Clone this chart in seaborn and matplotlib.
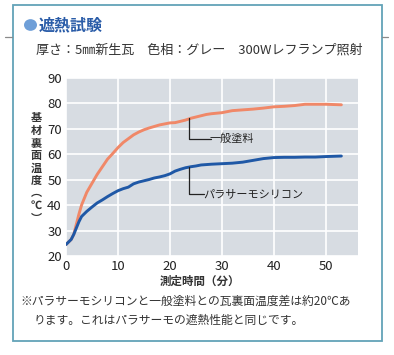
import numpy as np
import pandas as pd
import matplotlib
matplotlib.use("Agg")
import matplotlib.pyplot as plt
import seaborn as sns
from matplotlib.patches import Rectangle, Circle
from matplotlib.lines import Line2D

# 一般塗料
time_general = [0, 0.5, 1, 1.5, 2, 2.5, 3, 4, 5, 6, 7, 8, 9, 10, 11, 12, 13, 14, 15, 16, 17, 18,
                19, 20, 21, 22, 23, 24, 25, 26, 27, 28, 30, 32, 34, 36, 38, 40, 42, 44, 46, 48, 50, 53]
temp_general = [24.5, 25.5, 26.5, 28.5, 32.5, 36.5, 40, 45, 48.5, 52, 55, 58, 60.2, 62.5, 64.5, 66, 67.5, 68.6, 69.5, 70.2, 70.8, 71.4,
                71.8, 72.2, 72.3, 72.8, 73.3, 74, 74.5, 75, 75.5, 75.8, 76.2, 77, 77.3, 77.6, 78, 78.5, 78.7, 79, 79.5, 79.5, 79.5, 79.3]

# パラサーモシリコン
time_para = [0, 0.5, 1, 1.5, 2, 2.5, 3, 4, 5, 6, 7, 8, 9, 10, 11, 12, 13, 14, 15, 16, 17, 18,
             19, 20, 21, 22, 23, 24, 25, 26, 28, 30, 32, 34, 36, 38, 40, 42, 44, 46, 48, 50, 53]
temp_para = [24.5, 25.5, 26.5, 28.5, 31, 33.5, 35.5, 37.5, 39.2, 40.8, 42, 43.3, 44.5, 45.6, 46.4, 47, 48.3, 49, 49.5, 50, 50.6, 51,
             51.5, 52.2, 53.3, 54, 54.6, 55, 55.3, 55.7, 56, 56.2, 56.4, 56.8, 57.5, 58.2, 58.6, 58.7, 58.7, 58.8, 58.8, 59, 59.2]

x_ticks = [0, 10, 20, 30, 40, 50]
y_ticks = [20, 30, 40, 50, 60, 70, 80, 90]

df = pd.concat([
    pd.DataFrame({"time": time_general, "temp": temp_general, "kind": "一般塗料"}),
    pd.DataFrame({"time": time_para, "temp": temp_para, "kind": "パラサーモシリコン"}),
])

sns.set_theme(style="white")
plt.rcParams["font.family"] = ["Noto Sans CJK JP", "DejaVu Sans"]

W, H = 394, 355
fig = plt.figure(figsize=(W / 100, H / 100), dpi=100)

# outer frame
fig.add_artist(Line2D([5 / W, 12 / W], [1 - 37 / H] * 2, color="#8a8a8a", lw=0.9))
fig.add_artist(Line2D([382 / W, 388 / W], [1 - 37 / H] * 2, color="#8a8a8a", lw=0.9))
fig.add_artist(Rectangle((12.5 / W, 1 - 341 / H), 369 / W, 336.5 / H, transform=fig.transFigure,
                         facecolor="white", edgecolor="#62a3b8", lw=1.3, zorder=-5))

# title
fig.add_artist(Circle((30.5 / W, 1 - 25 / H), 6.5 / W, transform=fig.transFigure,
                      facecolor="#6f9fd8", edgecolor="none"))
fig.text(39 / W, 1 - 25 / H, "遮熱試験", fontsize=11.5, fontweight="bold", color="#2a5ca8",
         va="center", ha="left")
fig.text(36 / W, 1 - 50 / H, "厚さ：5㎜新生瓦　色相：グレー　300Wレフランプ照射", fontsize=9.4,
         color="#333333", va="center", ha="left")

ax = fig.add_axes([66 / W, 1 - 256 / H, 292 / W, 178.5 / H])
ax.set_facecolor("#d7dce2")
sns.lineplot(data=df, x="time", y="temp", hue="kind", palette=["#f08868", "#1f58a6"],
             linewidth=2.1, ax=ax, legend=False)

ax.set_xlim(0, 56.2)
ax.set_ylim(20, 90)
ax.set_xticks(x_ticks)
ax.set_yticks(y_ticks)
ax.grid(True, color="white", lw=1.2)
ax.set_axisbelow(True)
for s in ax.spines.values():
    s.set_visible(False)
ax.tick_params(length=0, labelsize=9.5, colors="#222222", pad=3)
ax.set_xlabel("")
ax.set_ylabel("")

# leader lines + labels
ax.plot([23.7, 23.7, 28.0], [74, 66, 66], color="#222222", lw=0.9)
ax.text(27.6, 66, "一般塗料", fontsize=8, color="#222222", va="center", ha="left")
ax.plot([23.7, 23.7, 26.5], [55, 44.3, 44.3], color="#222222", lw=0.9)
ax.text(26.5, 44.3, "パラサーモシリコン", fontsize=8, color="#222222", va="center", ha="left")

# axis labels
fig.text(36 / W, 1 - 168 / H, "基\n材\n裏\n面\n温\n度\n︵\n℃\n︶", fontsize=8, fontweight="bold",
         color="#333333", va="center", ha="center", linespacing=0.95)
fig.text(200 / W, 1 - 281 / H, "測定時間（分）", fontsize=8.3, fontweight="bold",
         color="#333333", va="center", ha="center")

# note
fig.text(20 / W, 1 - 301 / H, "※パラサーモシリコンと一般塗料との瓦裏面温度差は約20℃あ", fontsize=8.5,
         color="#333333", va="center", ha="left")
fig.text(33 / W, 1 - 320 / H, "ります。これはパラサーモの遮熱性能と同じです。", fontsize=8.5,
         color="#333333", va="center", ha="left")

fig.savefig("out.png", dpi=100)
